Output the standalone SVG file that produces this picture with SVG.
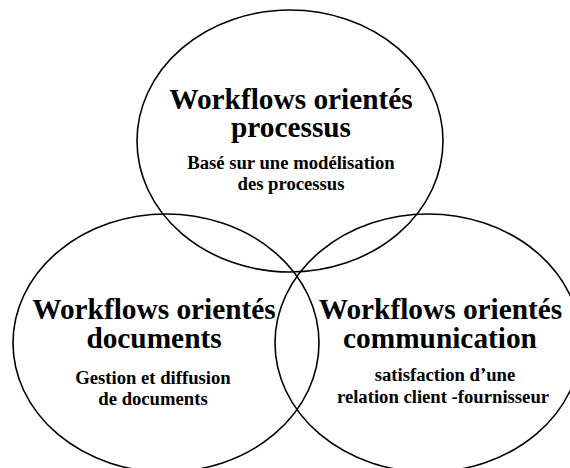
<svg xmlns="http://www.w3.org/2000/svg" width="570" height="468" viewBox="0 0 570 468">
<style>
.c{fill:none;stroke:#000;stroke-width:1.6}
.t{font-family:"Liberation Serif","Times New Roman",serif;font-weight:bold;font-size:29.33px;fill:#000;text-anchor:middle}
.s{font-family:"Liberation Serif","Times New Roman",serif;font-weight:bold;font-size:18.67px;fill:#000;text-anchor:middle}
</style>
<rect width="570" height="468" fill="#fff"/>
<g id="processus">
<ellipse class="c" cx="290" cy="141" rx="153" ry="131"/>
<text class="t" x="291" y="109">Workflows orientés</text>
<text class="t" x="291" y="137">processus</text>
<text class="s" x="291" y="169">Basé sur une modélisation</text>
<text class="s" x="291" y="190">des processus</text>
</g>
<g id="documents">
<ellipse class="c" cx="166" cy="343" rx="153" ry="129"/>
<text class="t" x="154" y="319">Workflows orientés</text>
<text class="t" x="154" y="347.5">documents</text>
<text class="s" x="153" y="384">Gestion et diffusion</text>
<text class="s" x="153" y="405">de documents</text>
</g>
<g id="communication">
<ellipse class="c" cx="428" cy="343" rx="153" ry="129"/>
<text class="t" x="440.5" y="319">Workflows orientés</text>
<text class="t" x="440" y="347.5">communication</text>
<text class="s" x="445" y="381">satisfaction d’une</text>
<text class="s" x="443" y="402.5">relation client -fournisseur</text>
</g>
<g id="connectors"></g>
</svg>
